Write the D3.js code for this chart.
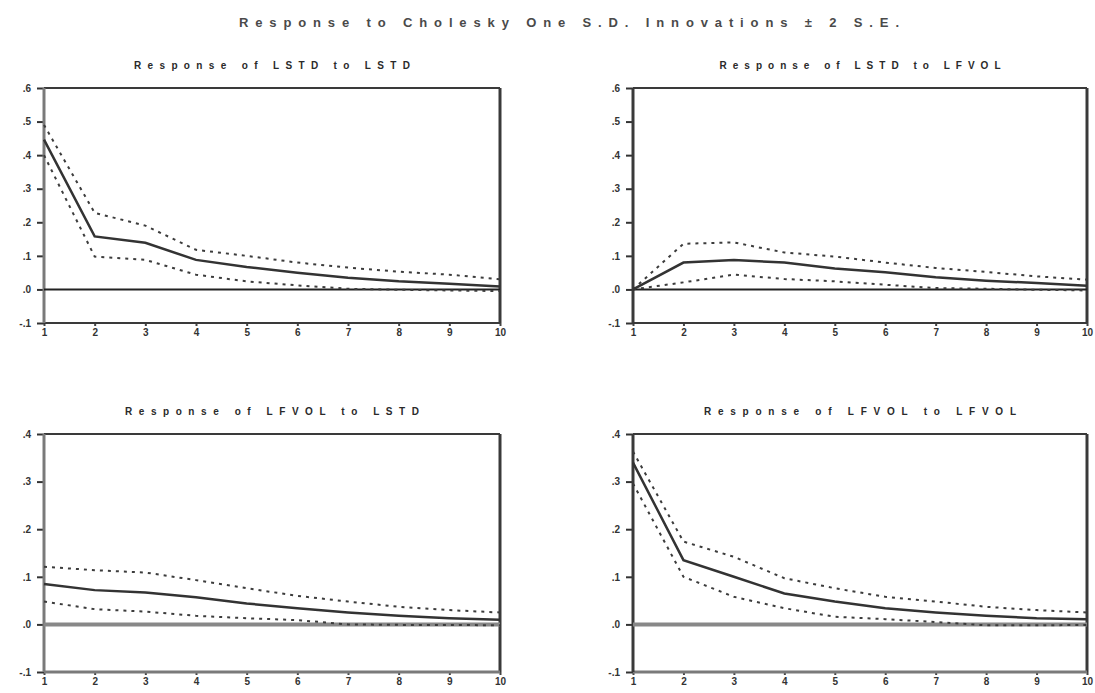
<!DOCTYPE html>
<html>
<head>
<meta charset="utf-8">
<script src="https://cdn.jsdelivr.net/npm/d3@7"></script>
<style>
  html, body { margin: 0; padding: 0; background: #fff; }
  svg { display: block; }
  text { font-family: "Liberation Sans", Arial, sans-serif; fill: #333; }
</style>
</head>
<body>
<svg id="chart" width="1095" height="693"></svg>
<script>
// ---------- data ----------
const mainTitle = "Response to Cholesky One S.D. Innovations \u00B1 2 S.E.";
const periods = [1, 2, 3, 4, 5, 6, 7, 8, 9, 10];
const xTickLabels = ["1", "2", "3", "4", "5", "6", "7", "8", "9", "10"];

const topYTicks = [0.6, 0.5, 0.4, 0.3, 0.2, 0.1, 0.0, -0.1];
const topYTickLabels = [".6", ".5", ".4", ".3", ".2", ".1", ".0", "-.1"];
const bottomYTicks = [0.4, 0.3, 0.2, 0.1, 0.0, -0.1];
const bottomYTickLabels = [".4", ".3", ".2", ".1", ".0", "-.1"];

const panelTitles = [
  "Response of LSTD to LSTD",
  "Response of LSTD to LFVOL",
  "Response of LFVOL to LSTD",
  "Response of LFVOL to LFVOL"
];

const lstdLstdResp  = [0.446, 0.158, 0.139, 0.088, 0.067, 0.050, 0.035, 0.024, 0.017, 0.009];
const lstdLstdUpper = [0.490, 0.228, 0.190, 0.118, 0.100, 0.080, 0.065, 0.053, 0.044, 0.030];
const lstdLstdLower = [0.400, 0.098, 0.088, 0.044, 0.024, 0.012, 0.002, -0.001, -0.003, -0.005];

const lstdLfvolResp  = [0.000, 0.080, 0.088, 0.080, 0.062, 0.051, 0.036, 0.026, 0.019, 0.011];
const lstdLfvolUpper = [0.000, 0.136, 0.140, 0.110, 0.098, 0.080, 0.064, 0.052, 0.039, 0.029];
const lstdLfvolLower = [0.000, 0.021, 0.044, 0.031, 0.024, 0.014, 0.004, 0.002, -0.001, -0.003];

const lfvolLstdResp  = [0.085, 0.072, 0.067, 0.057, 0.044, 0.034, 0.025, 0.018, 0.013, 0.010];
const lfvolLstdUpper = [0.121, 0.114, 0.109, 0.093, 0.076, 0.060, 0.048, 0.037, 0.030, 0.025];
const lfvolLstdLower = [0.048, 0.032, 0.027, 0.018, 0.013, 0.009, 0.000, -0.001, -0.001, -0.002];

const lfvolLfvolResp  = [0.340, 0.135, 0.100, 0.065, 0.048, 0.034, 0.025, 0.018, 0.013, 0.011];
const lfvolLfvolUpper = [0.363, 0.174, 0.142, 0.097, 0.076, 0.058, 0.048, 0.037, 0.030, 0.025];
const lfvolLfvolLower = [0.296, 0.100, 0.058, 0.034, 0.016, 0.011, 0.005, -0.002, -0.002, -0.001];

// ---------- layout ----------
const panels = [
  { title: panelTitles[0], resp: lstdLstdResp, upper: lstdLstdUpper, lower: lstdLstdLower,
    ticks: topYTicks, tickLabels: topYTickLabels, domain: [-0.1, 0.6],
    x0: 44, x1: 500, y0: 88, y1: 323, titleY: 69, titleLen: 276, bottomRow: false },
  { title: panelTitles[1], resp: lstdLfvolResp, upper: lstdLfvolUpper, lower: lstdLfvolLower,
    ticks: topYTicks, tickLabels: topYTickLabels, domain: [-0.1, 0.6],
    x0: 633, x1: 1087, y0: 88, y1: 323, titleY: 69, titleLen: 281, bottomRow: false },
  { title: panelTitles[2], resp: lfvolLstdResp, upper: lfvolLstdUpper, lower: lfvolLstdLower,
    ticks: bottomYTicks, tickLabels: bottomYTickLabels, domain: [-0.1, 0.4],
    x0: 44, x1: 500, y0: 434, y1: 672, titleY: 415, titleLen: 294, bottomRow: true },
  { title: panelTitles[3], resp: lfvolLfvolResp, upper: lfvolLfvolUpper, lower: lfvolLfvolLower,
    ticks: bottomYTicks, tickLabels: bottomYTickLabels, domain: [-0.1, 0.4],
    x0: 633, x1: 1087, y0: 434, y1: 672, titleY: 415, titleLen: 312, bottomRow: true }
];

const svg = d3.select("#chart");

svg.append("text")
  .attr("x", 569).attr("y", 27)
  .attr("text-anchor", "middle")
  .attr("font-size", 13).attr("font-weight", "bold")
  .attr("textLength", 660).attr("lengthAdjust", "spacing")
  .style("fill", "#4a4a4a")
  .text(mainTitle);

panels.forEach(p => {
  const g = svg.append("g");
  const x = d3.scaleLinear().domain([1, 10]).range([p.x0, p.x1]);
  const y = d3.scaleLinear().domain(p.domain).range([p.y1, p.y0]);

  // panel title
  g.append("text")
    .attr("x", (p.x0 + p.x1) / 2).attr("y", p.titleY)
    .attr("text-anchor", "middle")
    .attr("font-size", 10).attr("font-weight", "bold")
    .attr("textLength", p.titleLen).attr("lengthAdjust", "spacing")
    .style("fill", "#2a2a2a")
    .text(p.title);

  // y axis
  const yAxis = d3.axisLeft(y).tickValues(p.ticks)
    .tickFormat((d, i) => p.tickLabels[i]).tickSize(7).tickPadding(6);
  const ya = g.append("g").attr("transform", `translate(${p.x0},0)`).call(yAxis);
  ya.select(".domain").remove();
  ya.selectAll(".tick line").attr("stroke", "#333").attr("stroke-width", 2);
  ya.selectAll(".tick text").attr("font-size", 10).attr("font-weight", "bold")
    .style("font-family", "'Liberation Sans', Arial, sans-serif").attr("fill", "#333");

  // x axis
  const xAxis = d3.axisBottom(x).tickValues(periods)
    .tickFormat((d, i) => xTickLabels[i]).tickSize(3).tickPadding(3);
  const xa = g.append("g").attr("transform", `translate(0,${p.y1})`).call(xAxis);
  xa.select(".domain").remove();
  xa.selectAll(".tick line").attr("stroke", "#444").attr("stroke-width", 2);
  xa.selectAll(".tick text").attr("font-size", 10).attr("font-weight", "bold")
    .style("font-family", "'Liberation Sans', Arial, sans-serif").attr("fill", "#333");

  // frame
  const frameDark = "#3a3a3a", frameGrey = "#7a7a7a";
  g.append("line").attr("x1", p.x0).attr("x2", p.x1).attr("y1", p.y0).attr("y2", p.y0)
    .attr("stroke", frameDark).attr("stroke-width", 2);
  g.append("line").attr("x1", p.x1).attr("x2", p.x1).attr("y1", p.y0).attr("y2", p.y1)
    .attr("stroke", frameDark).attr("stroke-width", 3);
  g.append("line").attr("x1", p.x0).attr("x2", p.x1).attr("y1", p.y1).attr("y2", p.y1)
    .attr("stroke", p.bottomRow ? frameGrey : frameDark).attr("stroke-width", p.bottomRow ? 3 : 2);
  g.append("line").attr("x1", p.x0).attr("x2", p.x0).attr("y1", p.y0).attr("y2", p.y1)
    .attr("stroke", (p.x0 < 300) ? frameGrey : frameDark).attr("stroke-width", 3);

  // zero line
  g.append("line").attr("x1", x(1)).attr("x2", x(10)).attr("y1", y(0)).attr("y2", y(0))
    .attr("stroke", p.bottomRow ? "#888" : "#222").attr("stroke-width", p.bottomRow ? 4 : 2);

  const line = d3.line().x((d, i) => x(periods[i])).y(d => y(d));

  // bands
  [p.upper, p.lower].forEach(arr => {
    g.append("path").datum(arr).attr("d", line)
      .attr("fill", "none").attr("stroke", "#3c3c3c").attr("stroke-width", 2)
      .attr("stroke-dasharray", "3,5");
  });
  // response
  g.append("path").datum(p.resp).attr("d", line)
    .attr("fill", "none").attr("stroke", "#333").attr("stroke-width", 2.5);
});
</script>
</body>
</html>
